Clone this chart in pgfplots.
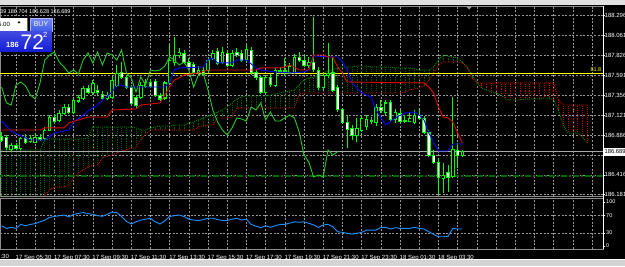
\documentclass[border=0pt]{standalone}
\usepackage{pgfplots}
\pgfplotsset{compat=1.18}
\usepackage{pgfplotstable}
\usepackage{fontspec}
\setmainfont{Liberation Sans}

\definecolor{candle}{RGB}{0,255,0}
\definecolor{tenkan}{RGB}{0,0,255}
\definecolor{kijun}{RGB}{225,0,0}
\definecolor{chikou}{RGB}{40,200,40}
\definecolor{spanA}{RGB}{0,150,0}
\definecolor{spanB}{RGB}{215,0,0}
\definecolor{hatchA}{RGB}{0,95,0}
\definecolor{hatchB}{RGB}{200,0,0}
\definecolor{rsi}{RGB}{30,144,255}
\definecolor{gridc}{RGB}{150,150,150}
\definecolor{fibo}{RGB}{255,255,0}
\definecolor{hline}{RGB}{0,105,0}
\definecolor{bidline}{RGB}{170,170,170}
\definecolor{boxblue}{RGB}{20,30,215}
\definecolor{buyblue}{RGB}{60,90,235}
\definecolor{chrome}{RGB}{225,225,225}

% k o h l c bull
\pgfplotstableread{
k o h l c b
0 186.874 186.921 186.803 186.827 0
1 186.851 186.886 186.709 186.733 0
2 186.721 186.792 186.685 186.768 1
3 186.768 186.792 186.709 186.733 0
4 186.721 186.862 186.709 186.839 1
5 186.862 186.898 186.780 186.803 0
6 186.815 186.886 186.792 186.851 1
7 186.803 186.910 186.792 186.862 1
8 186.862 186.898 186.815 186.839 0
9 186.851 186.980 186.827 186.945 1
10 186.945 187.122 186.933 187.098 1
11 187.098 187.134 187.028 187.051 0
12 187.063 187.181 187.039 187.146 1
13 187.146 187.252 187.122 187.216 1
14 187.216 187.252 187.134 187.157 0
15 187.146 187.323 187.134 187.299 1
16 187.287 187.358 187.264 187.323 1
17 187.323 187.464 187.299 187.441 1
18 187.441 187.476 187.370 187.393 0
19 187.393 187.535 187.358 187.500 1
20 187.417 187.476 187.358 187.393 0
21 187.370 187.405 187.299 187.323 0
22 187.323 187.393 187.299 187.358 1
23 187.334 187.570 187.311 187.535 1
24 187.476 187.712 187.452 187.618 1
25 187.629 187.747 187.547 187.570 0
26 187.570 187.594 187.429 187.452 0
27 187.452 187.476 187.240 187.264 0
28 187.334 187.358 187.205 187.240 0
29 187.334 187.511 187.311 187.476 1
30 187.464 187.547 187.441 187.511 1
31 187.511 187.547 187.441 187.464 0
32 187.523 187.547 187.334 187.358 0
33 187.358 187.382 187.287 187.311 0
34 187.323 187.523 187.299 187.500 1
35 187.500 187.948 187.476 187.771 1
36 187.747 188.042 187.700 187.830 1
37 187.830 187.913 187.795 187.865 1
38 187.854 187.889 187.724 187.747 0
39 187.747 187.795 187.653 187.688 0
40 187.712 187.747 187.582 187.618 0
41 187.629 187.700 187.594 187.653 1
42 187.653 187.688 187.582 187.606 0
43 187.653 187.795 187.629 187.771 1
44 187.795 187.889 187.771 187.854 1
45 187.877 187.913 187.712 187.736 0
46 187.747 187.924 187.724 187.865 1
47 187.854 187.889 187.688 187.712 0
48 187.712 187.889 187.688 187.854 1
49 187.854 187.913 187.806 187.830 0
50 187.854 187.889 187.747 187.771 0
51 187.771 187.948 187.747 187.889 1
52 187.889 187.924 187.594 187.618 0
53 187.618 187.653 187.535 187.559 0
54 187.559 187.582 187.370 187.393 0
55 187.393 187.594 187.382 187.570 1
56 187.570 187.606 187.452 187.476 0
57 187.476 187.677 187.452 187.653 1
58 187.653 187.688 187.606 187.641 0
59 187.641 187.795 187.582 187.653 1
60 187.629 187.736 187.606 187.700 1
61 187.629 187.842 187.606 187.806 1
62 187.806 187.865 187.747 187.771 0
63 187.771 187.830 187.688 187.712 0
64 187.712 187.806 187.677 187.747 1
65 187.747 188.278 187.629 187.653 0
66 187.653 187.688 187.417 187.452 0
67 187.441 187.629 187.417 187.594 1
68 187.594 187.972 187.559 187.618 1
69 187.618 187.806 187.393 187.417 0
70 187.441 187.476 187.157 187.181 0
71 187.181 187.205 187.016 187.039 0
72 187.039 187.122 186.733 186.945 0
73 186.969 187.004 186.827 186.886 0
74 186.886 187.087 186.803 186.969 1
75 186.945 187.122 186.921 187.087 1
76 186.992 187.122 186.945 187.075 1
77 187.063 187.098 187.016 187.051 0
78 187.028 187.252 186.992 187.216 1
79 187.216 187.299 187.146 187.181 0
80 187.157 187.299 187.122 187.264 1
81 187.275 187.299 187.039 187.063 0
82 187.063 187.193 187.028 187.157 1
83 187.146 187.181 187.028 187.051 0
84 187.063 187.122 187.028 187.051 0
85 187.051 187.146 187.039 187.087 1
86 187.039 187.181 187.016 187.122 1
87 187.122 187.205 187.063 187.087 0
88 187.087 187.110 186.898 186.921 0
89 186.921 186.945 186.626 186.650 0
90 186.650 186.709 186.544 186.567 0
91 186.567 186.615 186.178 186.390 0
92 186.379 186.556 186.202 186.414 1
93 186.438 186.532 186.213 186.390 0
94 186.390 187.334 186.379 186.709 1
95 186.709 186.792 186.497 186.650 0
96 186.639 186.704 186.628 186.689 1
}\candles

\pgfplotstableread{
k A B
0 186.709 185.942
1 186.709 185.942
2 186.709 185.942
3 186.709 185.942
4 186.709 185.942
5 186.709 185.942
6 186.709 185.942
7 186.709 185.942
8 186.709 185.942
9 186.827 186.178
10 186.839 186.237
11 186.839 186.272
12 186.839 186.272
13 186.839 186.272
14 186.839 186.296
15 186.839 186.379
16 186.839 186.438
17 186.839 186.473
18 186.851 186.508
19 186.980 186.532
20 186.980 186.532
21 186.980 186.615
22 186.980 186.638
23 186.980 186.650
24 186.980 186.674
25 186.980 186.697
26 186.980 186.709
27 186.980 186.733
28 186.969 186.733
29 186.945 186.827
30 186.945 186.898
31 186.969 186.945
32 186.980 186.945
33 186.992 186.945
34 186.992 186.945
35 186.992 186.945
36 187.004 186.945
37 187.004 186.945
38 187.004 186.945
39 187.028 186.945
40 187.039 186.945
41 187.063 186.980
42 187.087 186.992
43 187.110 187.004
44 187.134 187.004
45 187.157 187.087
46 187.181 187.087
47 187.216 187.087
48 187.264 187.098
49 187.311 187.205
50 187.334 187.205
51 187.346 187.205
52 187.346 187.205
53 187.346 187.205
54 187.346 187.205
55 187.346 187.205
56 187.358 187.205
57 187.370 187.205
58 187.382 187.205
59 187.393 187.205
60 187.405 187.205
61 187.417 187.205
62 187.476 187.370
63 187.535 187.382
64 187.559 187.382
65 187.570 187.382
66 187.594 187.382
67 187.618 187.382
68 187.641 187.382
69 187.653 187.382
70 187.677 187.382
71 187.688 187.382
72 187.688 187.382
73 187.688 187.382
74 187.700 187.382
75 187.700 187.382
76 187.700 187.382
77 187.688 187.382
78 187.688 187.382
79 187.688 187.382
80 187.688 187.382
81 187.688 187.382
82 187.677 187.382
83 187.677 187.382
84 187.677 187.393
85 187.677 187.417
86 187.665 187.429
87 187.653 187.441
88 187.653 187.464
89 187.653 187.535
90 187.688 187.618
91 187.771 187.712
92 187.830 187.747
93 187.818 187.747
94 187.806 187.747
95 187.795 187.747
96 187.747 187.736
97 187.688 187.677
98 187.594 187.559
99 187.511 187.500
100 187.441 187.500
101 187.417 187.500
102 187.393 187.500
103 187.382 187.500
104 187.358 187.500
105 187.311 187.500
106 187.299 187.500
107 187.299 187.500
108 187.299 187.500
109 187.311 187.500
110 187.311 187.500
111 187.311 187.500
112 187.311 187.500
113 187.323 187.500
114 187.323 187.500
115 187.299 187.500
116 187.181 187.299
117 187.004 187.240
118 186.910 187.240
119 186.910 187.240
120 186.910 187.240
121 186.862 187.240
122 186.792 187.240
}\spans

\pgfplotstableread{
k v
0 187.051
2 186.933
5 186.851
6 186.827
9 186.827
11 186.910
14 186.945
15 187.039
17 187.122
18 187.169
20 187.240
21 187.299
23 187.393
24 187.476
25 187.476
26 187.452
34 187.452
35 187.511
36 187.653
37 187.677
42 187.688
43 187.771
44 187.795
45 187.736
48 187.736
49 187.771
51 187.771
53 187.677
54 187.653
57 187.629
60 187.618
63 187.629
64 187.653
65 187.818
69 187.806
70 187.806
71 187.747
72 187.653
73 187.500
75 187.382
77 187.334
78 187.181
80 187.004
82 187.087
84 187.146
86 187.157
87 187.122
88 187.063
89 186.910
91 186.697
93 186.697
94 186.780
96 186.780
}\tenkan

\pgfplotstableread{
k v
0 186.945
8 186.945
9 186.969
13 186.969
14 187.028
16 187.063
18 187.098
22 187.098
23 187.181
28 187.193
29 187.240
33 187.264
34 187.358
35 187.452
36 187.535
37 187.559
38 187.594
41 187.618
43 187.653
53 187.653
54 187.677
58 187.677
59 187.688
60 187.712
61 187.688
62 187.653
64 187.653
65 187.830
67 187.830
68 187.806
69 187.806
70 187.688
71 187.618
72 187.511
88 187.500
89 187.452
90 187.382
91 187.216
92 187.098
93 187.087
94 187.039
95 186.910
96 186.792
}\kijun

\pgfplotstableread{
k v
0 187.452
1 187.264
2 187.240
3 187.476
4 187.511
5 187.464
6 187.358
7 187.311
8 187.500
9 187.771
10 187.830
11 187.865
12 187.747
13 187.688
14 187.618
15 187.653
16 187.606
17 187.771
18 187.854
19 187.736
20 187.865
21 187.712
22 187.854
23 187.830
24 187.771
25 187.889
26 187.618
27 187.559
28 187.393
29 187.570
30 187.476
31 187.653
32 187.641
33 187.653
34 187.700
35 187.806
36 187.771
37 187.712
38 187.747
39 187.653
40 187.452
41 187.594
42 187.618
43 187.417
44 187.181
45 187.039
46 186.945
47 186.886
48 186.969
49 187.087
50 187.075
51 187.051
52 187.216
53 187.181
54 187.264
55 187.063
56 187.157
57 187.051
58 187.051
59 187.087
60 187.122
61 187.087
62 186.921
63 186.650
64 186.567
65 186.390
66 186.414
67 186.390
68 186.709
69 186.650
70 186.689
}\chikou

\pgfplotstableread{
k v
0 46
1 40
2 42.5
3 40
4 49
5 46
6 49
7 51
8 55
9 59
10 65
11 67
12 69
13 70.5
14 66
15 72
16 74
17 76
18 73.5
19 72
20 69
21 67.5
22 72
23 77
24 76
25 67
26 56
27 50
28 55
29 59
30 61
31 63
32 55
33 50
34 57
35 67
36 69
37 70.5
38 67
39 61
40 59
41 58
42 60
43 63
44 63
45 60
46 58
47 58
48 61
49 63
50 59
51 61
52 49
53 45
54 41.6
55 46
56 42.5
57 46
58 49
59 49
60 52
61 55
62 54
63 55
64 51.6
65 48
66 42
67 48
68 49
69 44
70 32.5
71 31
72 29
73 27
74 29
75 31
76 36
77 36
78 36
79 42.5
80 42.5
81 38.6
82 41.6
83 40
84 40
85 40
86 42.5
87 40
88 38.6
89 32.5
90 26.6
91 21
92 21
93 22
94 40
95 38.6
96 38.6
}\rsi

\pgfplotsset{
  mtgrid/.style={grid=major, major grid style={draw=gridc, line width=0.55pt, dash pattern=on 2pt off 1.6pt}},
  errs/.style 2 args={error bars/.cd, y dir=both, y explicit, error mark=none,
     error bar style={draw=#1, line width=#2}},
}

\begin{document}
\begin{tikzpicture}[x=1pt,y=1pt]
\fill[black] (0,0) rectangle (625,266);
\fill[chrome] (0,261) rectangle (625,266);
\fill[white!83!black] (0,0) rectangle (625,7);
\draw[white, line width=0.8pt] (0,7) -- (625,7);

% ---------------- main price panel ----------------
\begin{axis}[
  at={(0pt,70pt)}, anchor=south west,
  width=603pt, height=190pt, scale only axis,
  xmin=-0.333, xmax=125.29, ymin=186.166, ymax=188.408,
  axis line style={draw=white!55!black, line width=0.8pt},
  mtgrid,
  xtick={3,7,...,123}, xticklabels={}, xtick style={draw=none},
  ytick={186.181,186.416,186.651,186.886,187.121,187.356,187.591,187.826,188.061,188.296},
  yticklabels={186.181,186.416,,186.886,187.121,187.356,187.591,187.826,188.061,188.296},
  ytick pos=right, yticklabel pos=right,
  ytick style={draw=white, line width=0.5pt}, major tick length=2pt, tick align=outside,
  yticklabel style={text=white, font=\fontsize{6}{7}\selectfont, inner sep=0pt, xshift=-0.5pt},
]
% cloud hatching
\addplot[draw=none, restrict x to domain=0:99, errs={hatchA}{0.6pt},
  error bar style={dash pattern=on 1pt off 1pt}]
  table[x=k, y expr={(\thisrow{A}+\thisrow{B})/2}, y error expr={abs(\thisrow{A}-\thisrow{B})/2}] {\spans};
\addplot[draw=none, restrict x to domain=100:122, errs={hatchB}{0.6pt},
  error bar style={dash pattern=on 1pt off 1pt}]
  table[x=k, y expr={(\thisrow{A}+\thisrow{B})/2}, y error expr={abs(\thisrow{A}-\thisrow{B})/2}] {\spans};
\addplot[spanA, line width=0.8pt, dash pattern=on 1pt off 1pt] table[x=k, y=A] {\spans};
\addplot[spanB, line width=0.8pt, dash pattern=on 1pt off 1pt] table[x=k, y=B] {\spans};

% horizontal lines
\addplot[fibo, line width=1.1pt] coordinates {(-1,187.614) (126,187.614)};
\addplot[hline, line width=1.1pt, dash pattern=on 6pt off 2pt on 2pt off 2pt] coordinates {(-1,186.402) (126,186.402)};
\addplot[bidline, line width=1pt] coordinates {(-1,186.689) (126,186.689)};

% candles
\addplot[draw=none, errs={candle}{0.8pt}]
  table[x=k, y expr={(\thisrow{h}+\thisrow{l})/2}, y error expr={(\thisrow{h}-\thisrow{l})/2}] {\candles};
\addplot[draw=none, errs={candle}{3.4pt}]
  table[x=k, y expr={(\thisrow{o}+\thisrow{c})/2}, y error expr={abs(\thisrow{o}-\thisrow{c})/2+0.006}] {\candles};
\addplot[draw=none, restrict expr to domain={\thisrow{b}}{-0.5:0.5}, errs={white}{1.8pt}]
  table[x=k, y expr={(\thisrow{o}+\thisrow{c})/2}, y error expr={max(abs(\thisrow{o}-\thisrow{c})/2-0.006,0)}] {\candles};
\addplot[draw=none, restrict expr to domain={\thisrow{b}}{0.5:1.5}, errs={black}{1.8pt}]
  table[x=k, y expr={(\thisrow{o}+\thisrow{c})/2}, y error expr={max(abs(\thisrow{o}-\thisrow{c})/2-0.006,0)}] {\candles};

% ichimoku lines
\addplot[chikou, line width=0.9pt] table[x=k, y=v] {\chikou};
\addplot[tenkan, line width=0.9pt] table[x=k, y=v] {\tenkan};
\addplot[kijun, line width=0.9pt] table[x=k, y=v] {\kijun};
\end{axis}

% ---------------- oscillator panel ----------------
\begin{axis}[
  at={(0pt,17pt)}, anchor=south west,
  width=603pt, height=51pt, scale only axis,
  xmin=-0.333, xmax=125.29, ymin=-6.8, ymax=109.1,
  axis line style={draw=white!55!black, line width=0.8pt},
  mtgrid,
  xtick={3,7,...,123},
  xticklabels={17 Sep 05:30,,17 Sep 07:30,,17 Sep 09:30,,17 Sep 11:30,,17 Sep 13:30,,17 Sep 15:30,,17 Sep 17:30,,17 Sep 19:30,,17 Sep 21:30,,17 Sep 23:30,,18 Sep 01:30,,18 Sep 03:30},
  xtick style={draw=none},
  xticklabel style={text=white, font=\fontsize{6}{7}\selectfont, anchor=north west, inner sep=0pt, yshift=-4.5pt, xshift=-0.5pt},
  ytick={30,70}, yticklabels={30,70},
  extra y ticks={0,100}, extra y tick labels={0,100}, extra y tick style={grid=none},
  ytick pos=right, yticklabel pos=right,
  ytick style={draw=white, line width=0.5pt}, major tick length=2pt, tick align=outside,
  yticklabel style={text=white, font=\fontsize{5.5}{6}\selectfont, inner sep=0pt, xshift=1pt},
]
\addplot[rsi, line width=0.9pt] table[x=k, y=v] {\rsi};
\end{axis}

% right scale border
\draw[white, line width=0.8pt] (603,17) -- (603,260);

% labels drawn on the chart
\node[anchor=south east, text=fibo, font=\fontsize{5.5}{6}\selectfont, inner sep=0.5pt] at (602,193.5) {61.8};
\node[anchor=west, fill=white, text=black, font=\fontsize{5.8}{6.5}\selectfont, inner sep=1pt, minimum height=8pt] at (603.5,114) {186.689};
\node[anchor=west, text=white, font=\fontsize{6}{7}\selectfont, inner sep=0pt] at (-27,9) {17 Sep 03:30};
\fill[white!60!black] (466,259.5) -- (472,259.5) -- (469,256.5) -- cycle;

% one-click trading widget
\node[anchor=west, text=white, font=\fontsize{5.5}{6}\selectfont, inner sep=0pt] at (0,254) {39 186.704 186.628 186.689};
\fill[white] (0,235) rectangle (27,248);
\draw[white!60!black, line width=0.5pt] (27,235) rectangle (27,248);
\node[anchor=west, text=black, font=\fontsize{6}{7}\selectfont, inner sep=0pt] at (-2,241.5) {5.00};
\fill[black] (17.5,243) -- (20.5,243) -- (19,245) -- cycle;
\shade[top color=buyblue!70!white, bottom color=buyblue] (30,235) rectangle (52,248);
\draw[white!70!blue, line width=0.5pt] (30,235) rectangle (52,248);
\node[text=white, font=\fontsize{7}{8}\selectfont, inner sep=0pt] at (41,241.5) {BUY};
\shade[top color=boxblue!80!white, bottom color=boxblue] (0,215) rectangle (52,235);
\node[anchor=base west, text=white, font=\fontsize{7.5}{8}\selectfont\bfseries, inner sep=0pt] at (6,219) {186};
\node[anchor=base west, text=white, font=\fontsize{21}{22}\selectfont, inner sep=0pt] at (20.5,217) {72};
\node[anchor=base west, text=white, font=\fontsize{7.5}{8}\selectfont, inner sep=0pt] at (43,229) {2};

\pgfresetboundingbox
\useasboundingbox (0,0) rectangle (625,266);
\end{tikzpicture}
\end{document}
